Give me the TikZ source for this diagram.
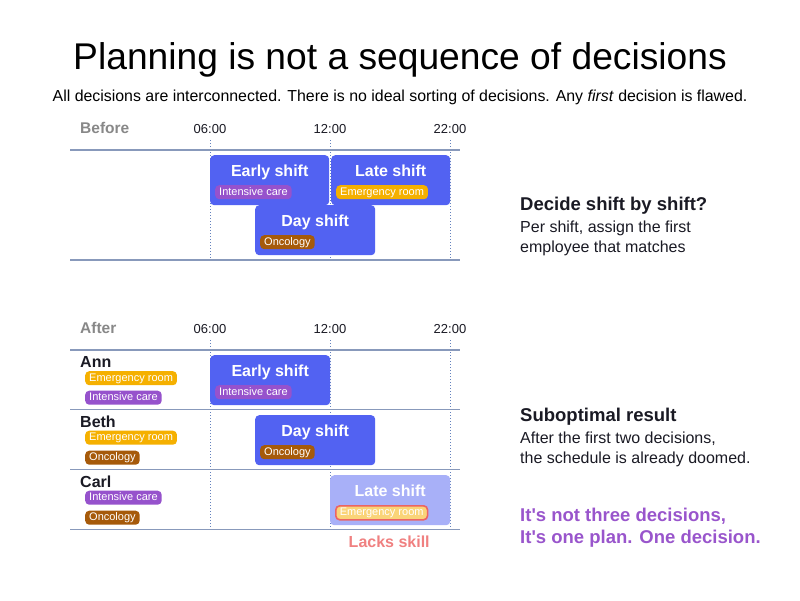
\documentclass[tikz,border=0pt]{standalone}
\usepackage{fontspec}
\setmainfont{Liberation Sans}[Ligatures=TeXOff]

\definecolor{shiftblue}{RGB}{82,98,242}
\definecolor{shiftpale}{RGB}{168,176,248}
\definecolor{tagorange}{RGB}{245,176,0}
\definecolor{tagpale}{RGB}{250,212,120}
\definecolor{tagpurple}{RGB}{150,82,204}
\definecolor{tagbrown}{RGB}{166,90,10}
\definecolor{rowline}{RGB}{136,153,187}
\definecolor{hourline}{RGB}{100,130,190}
\definecolor{mutedgray}{RGB}{136,136,136}
\definecolor{warnred}{RGB}{240,128,128}
\definecolor{warnborder}{RGB}{236,100,100}
\definecolor{accent}{RGB}{153,85,204}
\definecolor{ink}{RGB}{26,26,36}

\newcommand{\px}[1]{\fontsize{#1}{\dimexpr #1pt*12/10\relax}\selectfont}

\tikzset{
  rowrule/.style={draw=rowline, line width=1.9pt},
  hourrule/.style={draw=hourline, line width=0.9pt, dash pattern=on 1.2pt off 1.8pt},
  shiftbox/.style={fill=shiftblue, rounded corners=4pt, minimum width=120pt,
    minimum height=50pt, inner sep=0pt, anchor=north west},
  shifttitle/.style={anchor=base, text=white, font=\px{16}\bfseries, inner sep=0pt},
  tag/.style={rounded corners=4pt, text=white, font=\px{11}, minimum height=14pt,
    inner xsep=4pt, inner ysep=0pt, text height=8pt, text depth=2.2pt, anchor=north west},
  skillER/.style={tag, fill=tagorange},
  skillIC/.style={tag, fill=tagpurple},
  skillON/.style={tag, fill=tagbrown},
  hourlabel/.style={anchor=base, font=\px{13}, text=ink, inner sep=0pt},
  sectionlabel/.style={anchor=base west, font=\px{15.5}\bfseries, text=mutedgray, inner sep=0pt},
  person/.style={anchor=base west, font=\px{16}\bfseries, text=ink, inner sep=0pt},
  notehead/.style={anchor=base west, font=\px{18.5}\bfseries, text=ink, inner sep=0pt},
  notebody/.style={anchor=base west, font=\px{16}, text=ink, inner sep=0pt},
  moral/.style={anchor=base west, font=\px{18.5}\bfseries, text=accent, inner sep=0pt},
}

\begin{document}
\begin{tikzpicture}[x=1pt, y=-1pt]
  \fill[white] (0,0) rectangle (800,600);
  \useasboundingbox (0,0) rectangle (800,600);

  % Heading
  \node[anchor=base, font=\px{37.2}, text=black, inner sep=0pt] (title) at (400,69)
    {Planning is not a sequence of decisions};
  \node[anchor=base, font=\px{15.9}, text=black, inner sep=0pt] (subtitle) at (400,101)
    {All decisions are interconnected. There is no ideal sorting of decisions. Any \textit{first} decision is flawed.};

  % ---------- Before ----------
  \node[sectionlabel] (before) at (80,133) {Before};
  \node[hourlabel] (b06) at (210,133) {06:00};
  \node[hourlabel] (b12) at (330,133) {12:00};
  \node[hourlabel] (b22) at (450,133) {22:00};

  \coordinate (bt06) at (210,140); \coordinate (bb06) at (210,260);
  \coordinate (bt12) at (330,140); \coordinate (bb12) at (330,260);
  \coordinate (bt22) at (450,140); \coordinate (bb22) at (450,260);
  \draw[hourrule] (bt06) -- (bb06);
  \draw[hourrule] (bt12) -- (bb12);
  \draw[hourrule] (bt22) -- (bb22);

  \coordinate (bl1) at (70,150); \coordinate (br1) at (460,150);
  \coordinate (bl2) at (70,260); \coordinate (br2) at (460,260);
  \draw[rowrule] (bl1) -- (br1);
  \draw[rowrule] (bl2) -- (br2);

  \node[shiftbox, minimum width=119pt] (early1) at (210,155) {};
  \node[shifttitle] (early1t) at ([yshift=-21pt]early1.north) {Early shift};
  \node[skillIC] (early1s) at ([xshift=5pt,yshift=-30pt]early1.north west) {Intensive care};

  \node[shiftbox, minimum width=119pt] (late1) at (331,155) {};
  \node[shifttitle] (late1t) at ([yshift=-21pt]late1.north) {Late shift};
  \node[skillER] (late1s) at ([xshift=5pt,yshift=-30pt]late1.north west) {Emergency room};

  \node[shiftbox] (day1) at (255,205) {};
  \node[shifttitle] (day1t) at ([yshift=-21pt]day1.north) {Day shift};
  \node[skillON] (day1s) at ([xshift=5pt,yshift=-30pt]day1.north west) {Oncology};

  % ---------- After ----------
  \node[sectionlabel] (after) at (80,333) {After};
  \node[hourlabel] (a06) at (210,333) {06:00};
  \node[hourlabel] (a12) at (330,333) {12:00};
  \node[hourlabel] (a22) at (450,333) {22:00};

  \coordinate (at06) at (210,340); \coordinate (ab06) at (210,530);
  \coordinate (at12) at (330,340); \coordinate (ab12) at (330,530);
  \coordinate (at22) at (450,340); \coordinate (ab22) at (450,530);
  \draw[hourrule] (at06) -- (ab06);
  \draw[hourrule] (at12) -- (ab12);
  \draw[hourrule] (at22) -- (ab22);

  \foreach \y/\n in {350/1, 409.5/2, 469.5/3, 529.5/4} {
    \coordinate (al\n) at (70,\y); \coordinate (ar\n) at (460,\y);
    \draw[rowrule] (al\n) -- (ar\n);
  }

  % Employees and their skills
  \node[person] (ann) at (80,367) {Ann};
  \node[skillER] (annER) at (85,371) {Emergency room};
  \node[skillIC] (annIC) at (85,390.5) {Intensive care};

  \node[person] (beth) at (80,427) {Beth};
  \node[skillER] (bethER) at (85,430.5) {Emergency room};
  \node[skillON] (bethON) at (85,450.5) {Oncology};

  \node[person] (carl) at (80,487) {Carl};
  \node[skillIC] (carlIC) at (85,490.5) {Intensive care};
  \node[skillON] (carlON) at (85,510.5) {Oncology};

  % Assigned shifts
  \node[shiftbox] (early2) at (210,355) {};
  \node[shifttitle] (early2t) at ([yshift=-21pt]early2.north) {Early shift};
  \node[skillIC] (early2s) at ([xshift=5pt,yshift=-30pt]early2.north west) {Intensive care};

  \node[shiftbox] (day2) at (255,415) {};
  \node[shifttitle] (day2t) at ([yshift=-21pt]day2.north) {Day shift};
  \node[skillON] (day2s) at ([xshift=5pt,yshift=-30pt]day2.north west) {Oncology};

  \node[shiftbox, fill=shiftpale] (late2) at (330,475) {};
  \node[shifttitle] (late2t) at ([yshift=-21pt]late2.north) {Late shift};
  \node[tag, fill=tagpale, draw=warnborder, line width=1.6pt] (late2s)
    at ([xshift=5pt,yshift=-30pt]late2.north west) {Emergency room};
  \node[anchor=base, font=\px{16}\bfseries, text=warnred, inner sep=0pt] (lacks)
    at ([xshift=-1pt,yshift=-22pt]late2.south) {Lacks skill};

  % ---------- Notes ----------
  \node[notehead] (q1) at (520,210) {Decide shift by shift?};
  \node[notebody] (q1a) at (520,232) {Per shift, assign the first};
  \node[notebody] (q1b) at (520,252) {employee that matches};

  \node[notehead] (r1) at (520,421) {Suboptimal result};
  \node[notebody] (r1a) at (520,443) {After the first two decisions,};
  \node[notebody] (r1b) at (520,463) {the schedule is already doomed.};

  \node[moral] (m1) at (520,521) {It's not three decisions,};
  \node[moral] (m2) at (520,543) {It's one plan. One decision.};
\end{tikzpicture}
\end{document}
